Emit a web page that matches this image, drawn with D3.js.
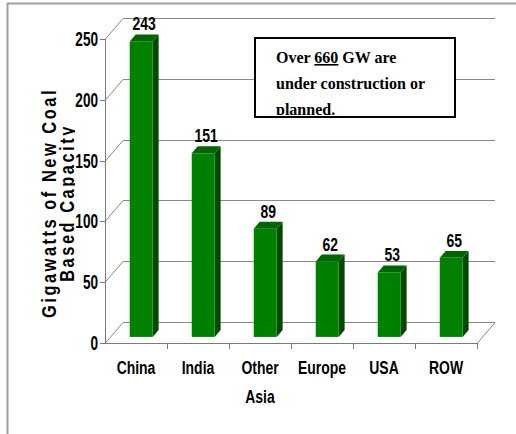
<!DOCTYPE html>
<html>
<head>
<meta charset="utf-8">
<script src="https://cdn.jsdelivr.net/npm/d3@7/dist/d3.min.js"></script>
<style>
  html, body { margin: 0; padding: 0; background: #fff; }
  svg { display: block; }
</style>
</head>
<body>
<svg id="chart" width="516" height="434"></svg>
<script>
// Planned new coal-fired capacity by region (GW)
const categories = ["China", "India", "Other Asia", "Europe", "USA", "ROW"];
const capacityGW = [243, 151, 89, 62, 53, 65];
const yTicks = [0, 50, 100, 150, 200, 250];
const titleLines = ["Gigawatts of New Coal", "Based Capacity"];
const noteLines = [["Over ", "660", " GW are"], ["under construction or"], ["planned."]];

(function draw() {
  const svg = d3.select("#chart");
  const W = 516, H = 434;

  // plot frame (front plane) and 3-D depth offset
  const plotL = 105, plotR = 477, plotB = 343, plotT = 39;
  const depth = { dx: 18, dy: -21 };
  // bars sit between these fractions of the depth
  const barFront = 0.29, barBack = 0.62;

  const y = d3.scaleLinear().domain([0, 250]).range([plotB, plotT]);
  const x = d3.scaleBand().domain(categories).range([plotL, plotR])
    .paddingInner(0.63).paddingOuter(0.315);
  const xEdge = d3.scaleBand().domain(categories).range([plotL, plotR]).padding(0);

  const sans = "'Liberation Sans', Arial, sans-serif";
  const serif = "'Liberation Serif', 'Times New Roman', serif";
  const gridColor = "#888888";

  // narrow bold label: Arial metrics squeezed horizontally
  function label(g, text, px, py, anchor, sx, sy, size) {
    return g.append("text")
      .attr("transform", `translate(${px},${py}) scale(${sx},${sy})`)
      .attr("text-anchor", anchor)
      .attr("font-family", sans)
      .attr("font-weight", "bold")
      .attr("font-size", size)
      .attr("fill", "#000")
      .text(text);
  }

  // outer frame
  svg.append("path")
    .attr("d", `M7.5,${H} L7.5,3.5 L${W},3.5`)
    .attr("fill", "none").attr("stroke", "#a0a0a0").attr("stroke-width", 2);

  // walls: back gridlines, left-wall diagonals, floor
  const walls = svg.append("g").attr("fill", "none").attr("stroke", gridColor).attr("stroke-width", 1);
  yTicks.forEach(t => {
    const yf = Math.round(y(t)) + 0.5, yb = Math.round(y(t) + depth.dy) + 0.5;
    walls.append("line").attr("x1", plotL + depth.dx).attr("x2", plotR + depth.dx)
      .attr("y1", yb).attr("y2", yb);
    walls.append("line").attr("x1", plotL).attr("y1", yf)
      .attr("x2", plotL + depth.dx).attr("y2", yb);
  });
  walls.append("line")
    .attr("x1", plotR).attr("y1", y(0) + 0.5)
    .attr("x2", plotR + depth.dx).attr("y2", y(0) + depth.dy + 0.5);

  // axes
  const axes = svg.append("g").attr("stroke", "#7a7a7a").attr("stroke-width", 1);
  axes.append("line").attr("x1", plotL + 0.5).attr("x2", plotL + 0.5)
    .attr("y1", y(250)).attr("y2", y(0) + 0.5);
  axes.append("line").attr("x1", plotL).attr("x2", plotR)
    .attr("y1", y(0) + 0.5).attr("y2", y(0) + 0.5);
  yTicks.forEach(t => {
    axes.append("line").attr("x1", plotL - 5).attr("x2", plotL)
      .attr("y1", Math.round(y(t)) + 0.5).attr("y2", Math.round(y(t)) + 0.5);
  });
  categories.forEach((c, i) => {
    if (i === 0) return;
    const xe = Math.round(xEdge(c)) + 0.5;
    axes.append("line").attr("x1", xe).attr("x2", xe)
      .attr("y1", plotB).attr("y2", plotB + 6);
  });
  axes.append("line").attr("x1", plotR + 0.5).attr("x2", plotR + 0.5)
    .attr("y1", plotB).attr("y2", plotB + 6);

  // y tick labels
  const yLab = svg.append("g");
  yTicks.forEach(t => label(yLab, t, 98, y(t) + 7, "end", 0.8, 1.15, 17));

  // bars (front face, top, side)
  const ddx = depth.dx * (barBack - barFront), ddy = depth.dy * (barBack - barFront);
  const bars = svg.append("g");
  categories.forEach((c, i) => {
    const v = capacityGW[i];
    const xl = x(c) + depth.dx * barFront;
    const xr = xl + x.bandwidth();
    const yb = y(0) + depth.dy * barFront;
    const yt = y(v) + depth.dy * barFront;
    bars.append("polygon")
      .attr("points", [[xr, yt], [xr + ddx, yt + ddy], [xr + ddx, yb + ddy], [xr, yb]].join(" "))
      .attr("fill", "#004a00");
    bars.append("polygon")
      .attr("points", [[xl, yt], [xl + ddx, yt + ddy], [xr + ddx, yt + ddy], [xr, yt]].join(" "))
      .attr("fill", "#006400");
    bars.append("rect")
      .attr("x", xl).attr("y", yt).attr("width", x.bandwidth()).attr("height", yb - yt)
      .attr("fill", "#008000");
    label(bars, v, (xl + xr) / 2 + 3, yt - 11, "middle", 0.82, 1.1, 17);
  });

  // category labels
  const xLab = svg.append("g");
  categories.forEach(c => {
    const cx = xEdge(c) + xEdge.bandwidth() / 2;
    c.split(" ").forEach((w, k) => label(xLab, w, cx, 374 + k * 28.5, "middle", 0.82, 1.08, 17));
  });

  // y-axis title, two rotated lines; the second one is cut at its baseline
  svg.append("clipPath").attr("id", "titleClip")
    .append("rect").attr("x", 0).attr("y", 0).attr("width", 75).attr("height", H);
  const title = svg.append("g").attr("clip-path", "url(#titleClip)");
  titleLines.forEach((line, k) => {
    title.append("text")
      .attr("transform", `translate(${56 + k * 18},203) rotate(-90) scale(0.82,1)`)
      .attr("text-anchor", "middle")
      .attr("font-family", sans)
      .attr("font-weight", "bold")
      .attr("font-size", 20)
      .attr("letter-spacing", 3.1)
      .text(line);
  });

  // note box
  const box = { x: 255, y: 38, w: 200, h: 79 };
  svg.append("rect")
    .attr("x", box.x).attr("y", box.y).attr("width", box.w).attr("height", box.h)
    .attr("fill", "#fff");
  svg.append("clipPath").attr("id", "noteClip")
    .append("rect").attr("x", box.x).attr("y", box.y).attr("width", box.w).attr("height", box.h - 2);
  const note = svg.append("g").attr("clip-path", "url(#noteClip)");
  noteLines.forEach((parts, k) => {
    const t = note.append("text")
      .attr("x", 276).attr("y", 63 + k * 25.8)
      .attr("font-family", serif)
      .attr("font-weight", "bold")
      .attr("font-size", 16)
      .attr("fill", "#000");
    parts.forEach((p, j) => {
      const s = t.append("tspan").text(p);
      if (parts.length === 3 && j === 1) s.attr("text-decoration", "underline");
    });
  });
  svg.append("rect")
    .attr("x", box.x).attr("y", box.y).attr("width", box.w).attr("height", box.h)
    .attr("fill", "none").attr("stroke", "#000").attr("stroke-width", 2);
})();
</script>
</body>
</html>
